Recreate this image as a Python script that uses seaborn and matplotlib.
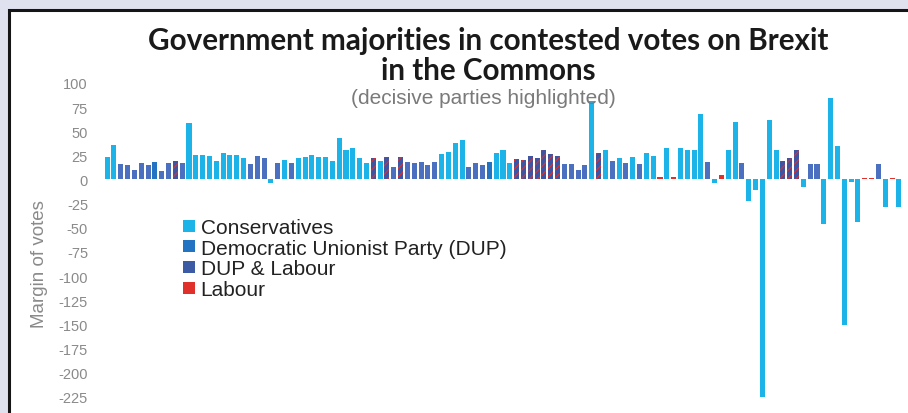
import numpy as np
import pandas as pd
import matplotlib
matplotlib.use("Agg")
import matplotlib.pyplot as plt
from matplotlib.patches import Rectangle
from matplotlib.lines import Line2D
import seaborn as sns

# Margin of each contested vote, in vote order
margins = [23, 36, 16, 15, 10, 17, 15, 18, 9, 17,
           19, 17, 58, 25, 25, 24, 19, 27, 25, 25,
           22, 16, 24, 22, -4, 17, 20, 17, 22, 23,
           25, 23, 23, 19, 43, 31, 33, 22, 17, 22,
           19, 23, 13, 23, 18, 17, 18, 15, 18, 26,
           28, 38, 41, 13, 17, 15, 18, 27, 31, 17,
           21, 20, 24, 22, 30, 26, 24, 16, 16, 10,
           15, 81, 27, 30, 19, 22, 17, 23, 16, 27,
           24, 3, 33, 3, 33, 30, 30, 68, 18, -4,
           5, 31, 59, 17, -22, -11, -225, 62, 31, 19,
           22, 31, -8, 16, 16, -46, 84, 35, -151, -3,
           -44, 2, 2, 16, -28, 2, -28]

# Party whose votes decided each division ("DL*": DUP and Labour together)
C, D, DL, L = "Conservatives", "Democratic Unionist Party (DUP)", "DUP & Labour", "Labour"
parties = [C, C, DL, DL, DL, DL, DL, D, DL, DL,
           "DL*", DL, C, C, C, C, C, C, C, C,
           C, DL, DL, DL, C, DL, C, DL, C, C,
           C, C, C, C, C, C, C, C, C, "DL*",
           C, "DL*", DL, "DL*", DL, DL, DL, DL, DL, C,
           C, C, C, DL, DL, DL, D, C, C, C,
           "DL*", "DL*", "DL*", "DL*", "DL*", "DL*", "DL*", DL, DL, DL,
           DL, C, "DL*", C, DL, C, DL, C, DL, C,
           C, L, C, L, C, C, C, C, DL, C,
           L, C, C, DL, C, C, C, C, C, "DL*",
           "DL*", "DL*", C, DL, DL, C, C, C, C, C,
           C, L, L, DL, C, L, C]

hatched = [p == "DL*" for p in parties]
parties = [DL if p == "DL*" else p for p in parties]

legend_order = [C, D, DL, L]
colors = {C: "#1cb4e8", D: "#2274c2", DL: "#4c70c0", L: "#e0302b"}
y_ticks = list(range(-225, 101, 25))

df = pd.DataFrame({"vote": np.arange(len(margins)), "margin": margins, "party": parties})

sns.set_theme(style="white")
plt.rcParams["font.family"] = ["Liberation Sans", "DejaVu Sans"]
plt.rcParams["hatch.linewidth"] = 0.9

fig = plt.figure(figsize=(9.08, 4.14), dpi=100)
fig.patch.set_facecolor("#dfe1ee")

# white panel with dark frame
panel = Rectangle((8.5 / 908, -0.1), 1.2, (414 - 10.5) / 414 + 0.1,
                  transform=fig.transFigure, facecolor="white",
                  edgecolor="#151515", linewidth=2.2, zorder=0)
fig.add_artist(panel)

ax = fig.add_axes([103 / 908, (414 - 431.7) / 414, 800 / 908, 357.5 / 414])
ax.set_facecolor("none")

sns.barplot(data=df, x="vote", y="margin", hue="party", hue_order=legend_order,
            palette=colors, dodge=False, width=0.74, saturation=1,
            legend=False, ax=ax)

bars = sorted(ax.patches, key=lambda p: p.get_x())
for bar, h in zip(bars, hatched):
    bar.set_linewidth(0)
    if h:
        bar.set_facecolor("#3d55a3")
        bar.set_edgecolor("#e0302b")
        bar.set_hatch("////")

ax.set_xlim(-0.6, len(margins) - 0.4)
ax.set_ylim(-260, 110)
ax.set_yticks(y_ticks)
ax.set_yticklabels([str(t) for t in y_ticks])
ax.set_xticks([])
ax.set_xlabel("")
ax.set_ylabel("")
ax.tick_params(axis="y", length=0, pad=10.8, labelsize=10.5, labelcolor="#8a8a8a")
for s in ax.spines.values():
    s.set_visible(False)

fig.text(40 / 908, (414 - 264) / 414, "Margin of votes", rotation=90,
         ha="center", va="center", fontsize=13.5, color="#8a8a8a")

title_font = ["Lato", "DejaVu Sans"]
fig.text(488 / 908, (414 - 50) / 414, "Government majorities in contested votes on Brexit",
         ha="center", va="baseline", fontsize=21.3, fontweight="bold",
         color="#1a1a1a", family=title_font)
fig.text(488 / 908, (414 - 80) / 414, "in the Commons",
         ha="center", va="baseline", fontsize=21.3, fontweight="bold",
         color="#1a1a1a", family=title_font)
fig.text(483 / 908, (414 - 99) / 414, "(decisive parties highlighted)",
         ha="center", va="center", fontsize=15, color="#7a7a7a")

handles = [Line2D([], [], linestyle="none", marker="s", markersize=8,
                  markerfacecolor=colors[p], markeredgewidth=0) for p in legend_order]
handles[2] = Line2D([], [], linestyle="none", marker="s", markersize=8,
                    markerfacecolor="#3d5aa5", markeredgewidth=0)
leg = fig.legend(handles, legend_order, loc="upper left",
                 bbox_to_anchor=(184 / 908, (414 - 219) / 414),
                 frameon=False, fontsize=15, handlelength=0.5,
                 handletextpad=0.3, labelspacing=0.08, borderpad=0,
                 borderaxespad=0)
for t in leg.get_texts():
    t.set_color("#222222")

fig.savefig("out.png", dpi=100, facecolor=fig.get_facecolor())
